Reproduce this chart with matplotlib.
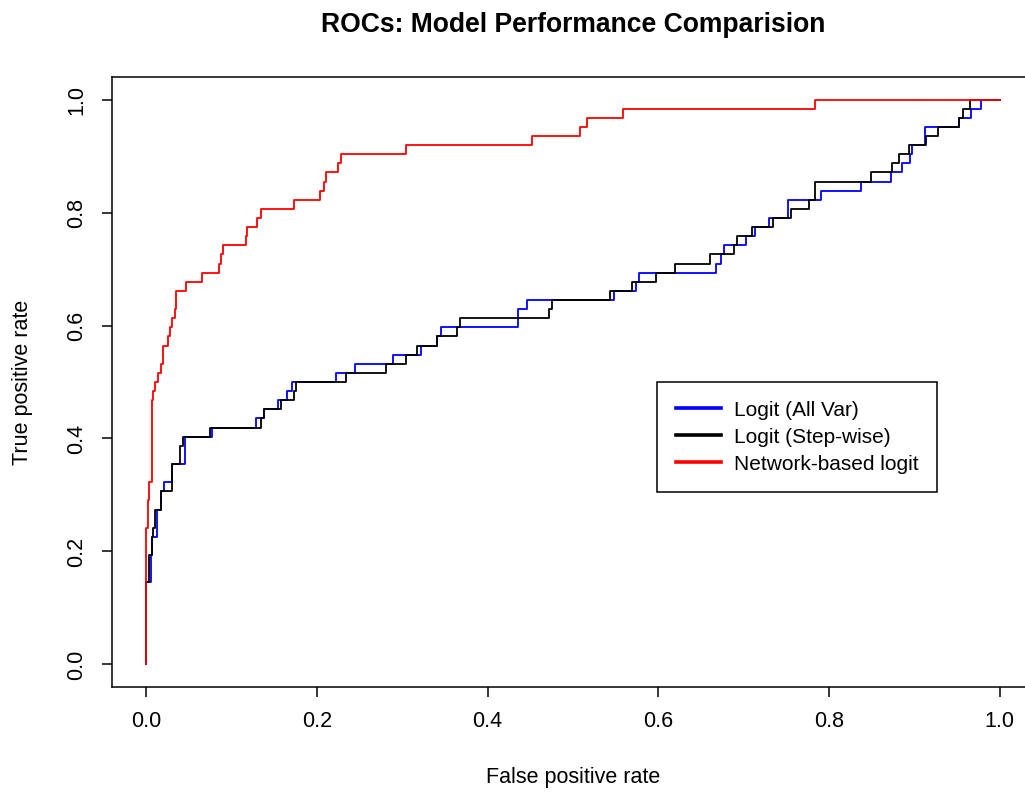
import matplotlib
matplotlib.use("Agg")
import matplotlib.pyplot as plt

plt.rcParams['font.family'] = ['Liberation Sans', 'DejaVu Sans']

# ---- data: ROC corner points (fpr where the curve rises, tpr after the rise) ----
allvar_fpr = [0.0, 0.0, 0.0004, 0.0055, 0.0066, 0.0125, 0.0172, 0.0211, 0.0308, 0.0450,
              0.0777, 0.1292, 0.1382, 0.1550, 0.1655, 0.1706, 0.2221, 0.2447, 0.2892,
              0.3216, 0.3411, 0.3451, 0.4356, 0.4465, 0.5480, 0.5734, 0.5773, 0.6671,
              0.6730, 0.6768, 0.7022, 0.7131, 0.7295, 0.7521, 0.7900, 0.8369, 0.8720,
              0.8856, 0.8942, 0.8973, 0.9122, 0.9520, 0.9657, 0.9780, 1.0]
allvar_tpr = [0.0, 0.0645, 0.1452, 0.1935, 0.2258, 0.2742, 0.3065, 0.3226, 0.3548, 0.4032,
              0.4194, 0.4355, 0.4516, 0.4677, 0.4839, 0.5000, 0.5161, 0.5323, 0.5484,
              0.5645, 0.5806, 0.5968, 0.6290, 0.6452, 0.6613, 0.6774, 0.6935, 0.7097,
              0.7258, 0.7419, 0.7581, 0.7742, 0.7903, 0.8226, 0.8387, 0.8548, 0.8710,
              0.8871, 0.9032, 0.9194, 0.9516, 0.9677, 0.9839, 1.0, 1.0]

stepwise_fpr = [0.0, 0.0, 0.0004, 0.0035, 0.0066, 0.0080, 0.0105, 0.0172, 0.0308, 0.0395,
                0.0430, 0.0745, 0.1343, 0.1382, 0.1577, 0.1733, 0.1753, 0.2338, 0.2807,
                0.3048, 0.3169, 0.3411, 0.3646, 0.3677, 0.4719, 0.4750, 0.5430, 0.5694,
                0.5968, 0.6200, 0.6604, 0.6885, 0.6924, 0.7100, 0.7346, 0.7549, 0.7763,
                0.7834, 0.8486, 0.8732, 0.8817, 0.8934, 0.9130, 0.9278, 0.9520, 0.9567,
                0.9645, 1.0]
stepwise_tpr = [0.0, 0.0645, 0.1452, 0.1935, 0.2258, 0.2419, 0.2742, 0.3065, 0.3548, 0.3871,
                0.4032, 0.4194, 0.4355, 0.4516, 0.4677, 0.4839, 0.5000, 0.5161, 0.5323,
                0.5484, 0.5645, 0.5806, 0.5968, 0.6129, 0.6290, 0.6452, 0.6613, 0.6774,
                0.6935, 0.7097, 0.7258, 0.7419, 0.7581, 0.7742, 0.7903, 0.8065, 0.8226,
                0.8548, 0.8710, 0.8871, 0.9032, 0.9194, 0.9355, 0.9516, 0.9677, 0.9839,
                1.0, 1.0]

network_fpr = [0.0, 0.0, 0.0004, 0.0016, 0.0035, 0.0066, 0.0082, 0.0105, 0.0133, 0.0172,
               0.0199, 0.0261, 0.0281, 0.0308, 0.0336, 0.0355, 0.0472, 0.0660, 0.0855,
               0.0874, 0.0902, 0.1167, 0.1187, 0.1296, 0.1350, 0.1733, 0.2037, 0.2084,
               0.2104, 0.2248, 0.2280, 0.3040, 0.4520, 0.5080, 0.5160, 0.5580, 0.7830, 1.0]
network_tpr = [0.0, 0.0806, 0.2419, 0.2903, 0.3226, 0.4677, 0.4839, 0.5000, 0.5161, 0.5323,
               0.5645, 0.5806, 0.5968, 0.6129, 0.6290, 0.6613, 0.6774, 0.6935, 0.7097,
               0.7258, 0.7419, 0.7581, 0.7742, 0.7903, 0.8065, 0.8226, 0.8387, 0.8548,
               0.8710, 0.8871, 0.9032, 0.9194, 0.9355, 0.9516, 0.9677, 0.9839, 1.0, 1.0]

labels = ["Logit (All Var)", "Logit (Step-wise)", "Network-based logit"]
ticks = [0.0, 0.2, 0.4, 0.6, 0.8, 1.0]
tick_labels = ["0.0", "0.2", "0.4", "0.6", "0.8", "1.0"]

W, H = 1025, 792
fig = plt.figure(figsize=(W / 100, H / 100), dpi=100)
# axes box in pixels: left 112, right 1034, top 77, bottom 687
L, R, T, B = 112, 1034, 77, 687
ax = fig.add_axes([L / W, 1 - B / H, (R - L) / W, (B - T) / H])

lw = 1.3
ax.step(allvar_fpr, allvar_tpr, where='post', color='#0000FF', lw=lw, label=labels[0])
ax.step(stepwise_fpr, stepwise_tpr, where='post', color='black', lw=lw, label=labels[1])
ax.step(network_fpr, network_tpr, where='post', color='#FF0000', lw=lw, label=labels[2])

ax.set_xlim(-0.04, 1.04)
ax.set_ylim(-0.04, 1.04)
for s in ax.spines.values():
    s.set_linewidth(1.1)
    s.set_color('black')

fs = 15.5
ax.set_xticks(ticks)
ax.set_xticklabels(tick_labels)
ax.set_yticks(ticks)
ax.set_yticklabels(tick_labels)
ax.tick_params(axis='both', direction='out', length=7, width=1.1, labelsize=fs, color='black')
ax.tick_params(axis='x', pad=10)
ax.tick_params(axis='y', pad=11, labelrotation=90)
for lb in ax.get_yticklabels():
    lb.set_va('center')

ax.set_xlabel("False positive rate", fontsize=fs, va='center')
ax.xaxis.set_label_coords(0.5, (B - 778) / (B - T))
ax.set_ylabel("True positive rate", fontsize=fs, va='center')
ax.yaxis.set_label_coords((23 - L) / (R - L), 0.5)

fig.text(573 / W, 1 - 25 / H, "ROCs: Model Performance Comparision", ha='center', va='center',
         fontsize=19.1, fontweight='bold')

# legend box: pixels x 657..938, y 382..488
leg = ax.legend(loc='upper left',
                bbox_to_anchor=((657 - L) / (R - L), (B - 382) / (B - T)),
                fontsize=15, frameon=True, fancybox=False, framealpha=1,
                edgecolor='black', borderpad=0.9, labelspacing=0.38,
                handlelength=2.16, handletextpad=0.63, borderaxespad=0)
leg.get_frame().set_linewidth(1.1)
for h in leg.get_lines():
    h.set_linewidth(2.6)

fig.savefig("out.png", dpi=100)
